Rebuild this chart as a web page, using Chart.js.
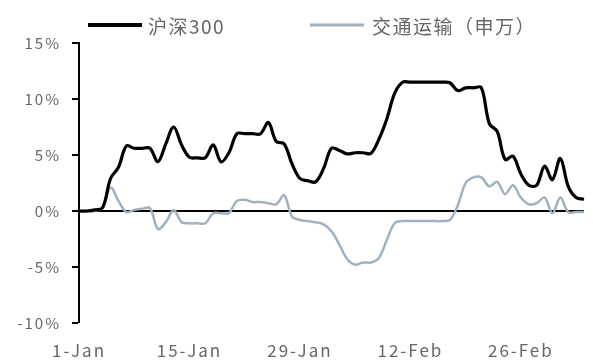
<!DOCTYPE html>
<html>
<head>
<meta charset="utf-8">
<script src="https://cdn.jsdelivr.net/npm/chart.js@4.4.1/dist/chart.umd.min.js"></script>
<style>
  html, body { margin: 0; padding: 0; background: #fff; }
  #wrap { width: 593px; height: 362px; }
</style>
</head>
<body>
<div id="wrap"><canvas id="myChart"></canvas></div>
<script>
// daily dates, 1-Jan .. 5-Mar (2024, leap year)
const months = [["Jan", 31], ["Feb", 29], ["Mar", 5]];
const days = [];
months.forEach(([m, n]) => {
  for (let d = 1; d <= n; d++) days.push(d + "-" + m);
});

const tickLabels = ["1-Jan", "15-Jan", "29-Jan", "12-Feb", "26-Feb"];

// cumulative return, %
const hs300 = [
  0, 0, 0.1, 0.3, 2.9, 3.9, 5.8, 5.6, 5.6, 5.6,
  4.4, 6.0, 7.5, 5.9, 4.8, 4.75, 4.75, 5.9, 4.4, 5.2,
  6.9, 6.9, 6.9, 6.9, 7.9, 6.2, 6.0, 4.2, 2.9, 2.7,
  2.6, 3.8, 5.6, 5.4, 5.1, 5.2, 5.2, 5.15, 6.4, 8.2,
  10.5, 11.5, 11.5, 11.5, 11.5, 11.5, 11.5, 11.45, 10.75, 11.0,
  11.0, 11.0, 7.8, 7.1, 4.6, 4.9, 3.3, 2.3, 2.3, 4.0,
  2.8, 4.7, 2.2, 1.2, 1.05
];

const transport = [
  0, 0, 0, 0.3, 2.1, 0.9, -0.1, 0.1, 0.2, 0.25,
  -1.6, -1.0, 0.1, -1.0, -1.1, -1.1, -1.1, -0.2, -0.2, -0.2,
  0.9, 1.0, 0.8, 0.8, 0.7, 0.6, 1.4, -0.5, -0.8, -0.9,
  -1.0, -1.2, -1.8, -3.0, -4.3, -4.8, -4.6, -4.6, -4.2, -2.6,
  -1.1, -0.9, -0.9, -0.9, -0.9, -0.9, -0.9, -0.8, 0.5, 2.5,
  3.0, 3.0, 2.2, 2.6, 1.5, 2.3, 1.2, 0.6, 0.7, 1.2,
  -0.2, 1.2, -0.1, -0.1, -0.1
];

const FONT = "'Noto Sans CJK SC', 'Noto Sans', sans-serif";
const GREY = "#666666";

// wider glyph spacing for all canvas text
const spacing = {
  id: "spacing",
  beforeUpdate(chart) { chart.ctx.letterSpacing = "2px"; },
  beforeDraw(chart) { chart.ctx.letterSpacing = "2px"; }
};

// line-sample legend across the top
const lineLegend = {
  id: "lineLegend",
  afterDraw(chart, args, opts) {
    const ctx = chart.ctx;
    ctx.save();
    ctx.font = opts.font;
    ctx.fillStyle = opts.color;
    ctx.textBaseline = "middle";
    ctx.letterSpacing = "1.5px";
    chart.data.datasets.forEach((ds, i) => {
      const it = opts.items[i];
      ctx.strokeStyle = ds.borderColor;
      ctx.lineWidth = it.width;
      ctx.beginPath();
      ctx.moveTo(it.x, opts.y);
      ctx.lineTo(it.x + opts.len, opts.y);
      ctx.stroke();
      ctx.fillText(ds.label, it.x + opts.len + it.gap, opts.y + 2);
    });
    ctx.restore();
  }
};

const ctx = document.getElementById("myChart").getContext("2d");

new Chart(ctx, {
  type: "line",
  data: {
    labels: days,
    datasets: [
      {
        label: "沪深300",
        data: hs300,
        borderColor: "#000000",
        borderWidth: 3.2,
        pointRadius: 0,
        tension: 0.35
      },
      {
        label: "交通运输（申万）",
        data: transport,
        borderColor: "#a2b1bf",
        borderWidth: 2.5,
        pointRadius: 0,
        tension: 0.35
      }
    ]
  },
  options: {
    responsive: true,
    maintainAspectRatio: false,
    animation: false,
    layout: { padding: { top: 43, right: 6, bottom: 0, left: 0 } },
    plugins: {
      legend: { display: false },
      tooltip: { enabled: false },
      lineLegend: {
        y: 25,
        len: 54,
        font: "19px " + FONT,
        color: GREY,
        items: [
          { x: 88, width: 4, gap: 6 },
          { x: 310, width: 3, gap: 8 }
        ]
      }
    },
    scales: {
      x: {
        type: "category",
        offset: false,
        grid: { display: false },
        border: { display: false },
        ticks: {
          autoSkip: false,
          maxRotation: 0,
          padding: 9,
          color: GREY,
          font: { family: FONT, size: 17 },
          callback(value, index) {
            const lab = days[index];
            return tickLabels.includes(lab) ? lab : "";
          }
        },
        afterFit(scale) { scale.height = 39; }
      },
      y: {
        min: -10,
        max: 15,
        ticks: {
          stepSize: 5,
          padding: 11,
          color: GREY,
          font: { family: FONT, size: 15 },
          callback: v => v + "%"
        },
        grid: {
          drawTicks: true,
          tickLength: 7,
          tickColor: "#000",
          tickWidth: 2,
          color: c => (c.tick && c.tick.value === 0 ? "#000" : "rgba(0,0,0,0)"),
          lineWidth: c => (c.tick && c.tick.value === 0 ? 2 : 0)
        },
        border: { display: true, color: "#000", width: 2 },
        afterFit(scale) { scale.width = 79; }
      }
    }
  },
  plugins: [spacing, lineLegend]
});
</script>
</body>
</html>
